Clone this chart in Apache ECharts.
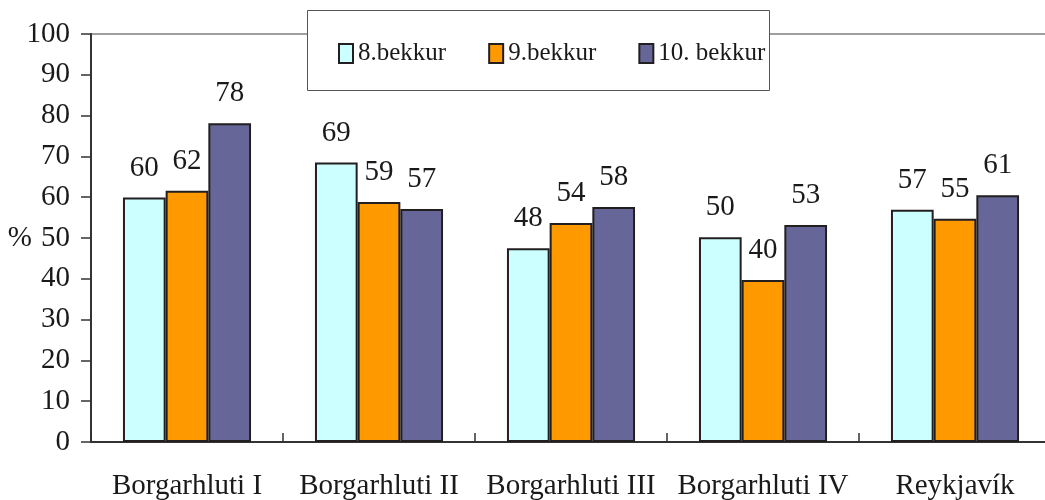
<!DOCTYPE html>
<html>
<head>
<meta charset="utf-8">
<script src="https://cdn.jsdelivr.net/npm/echarts@6/dist/echarts.min.js"></script>
<style>html,body{margin:0;padding:0;background:#fff}#c{width:1045px;height:500px}</style>
</head>
<body>
<div id="c"></div>
<script>
const categories = ['Borgarhluti I', 'Borgarhluti II', 'Borgarhluti III', 'Borgarhluti IV', 'Reykjavík'];
const seriesNames = ['8.bekkur', '9.bekkur', '10. bekkur'];
const grade8 = [59.9, 68.5, 47.5, 50.2, 56.9];
const grade9 = [61.6, 58.8, 53.7, 39.7, 54.7];
const grade10 = [78.1, 57.1, 57.6, 53.2, 60.5];
const colors = ['#CCFFFF', '#FF9900', '#666699'];

const FONT = "'Liberation Serif', 'Times New Roman', serif";
const TXT = '#1a1a1a';
const chart = echarts.init(document.getElementById('c'), null, {renderer: 'canvas'});

function mkSeries(name, data, color) {
  return {
    name: name, type: 'bar', data: data,
    barGap: '0%', barCategoryGap: '33.3%',
    itemStyle: {color: color, borderColor: '#231f20', borderWidth: 2},
    label: {
      show: true, position: 'top', distance: 15,
      fontFamily: FONT, fontSize: 29, color: TXT,
      formatter: p => Math.round(p.value)
    },
    emphasis: {disabled: true}
  };
}

chart.setOption({
  animation: false,
  backgroundColor: '#fff',
  grid: {left: 91, right: -6, top: 34, bottom: 58, show: true, borderColor: '#808080', borderWidth: 1.5,
         containLabel: false, outerBoundsMode: 'none'},
  graphic: [{
    type: 'rect', z: 100,
    shape: {x: 307.5, y: 10.5, width: 462, height: 80},
    style: {fill: '#fff', stroke: '#555', lineWidth: 1}
  }],
  legend: {
    z: 110, left: 338, top: 41, padding: 0,
    itemWidth: 14, itemHeight: 19, itemGap: 42,
    icon: 'rect',
    itemStyle: {borderColor: '#231f20', borderWidth: 2},
    textStyle: {fontFamily: FONT, fontSize: 25, color: TXT},
    data: seriesNames
  },
  xAxis: {
    type: 'category', data: categories,
    axisLine: {lineStyle: {color: '#333', width: 2}},
    axisTick: {show: true, inside: true, length: 9, lineStyle: {color: '#333', width: 1.5}},
    axisLabel: {fontFamily: FONT, fontSize: 29, color: TXT, margin: 30, interval: 0}
  },
  yAxis: {
    type: 'value', min: 0, max: 100, interval: 10,
    name: '%', nameLocation: 'middle', nameRotate: 0, nameGap: 59, nameMoveOverlap: false,
    nameTextStyle: {fontFamily: FONT, fontSize: 29, color: TXT},
    axisLine: {show: true, lineStyle: {color: '#333', width: 2}},
    axisTick: {show: true, inside: false, length: 10, lineStyle: {color: '#333', width: 1.5}},
    splitLine: {show: false},
    axisLabel: {fontFamily: FONT, fontSize: 29, color: TXT, margin: 21}
  },
  series: [
    mkSeries(seriesNames[0], grade8, colors[0]),
    mkSeries(seriesNames[1], grade9, colors[1]),
    mkSeries(seriesNames[2], grade10, colors[2])
  ]
});
</script>
</body>
</html>
